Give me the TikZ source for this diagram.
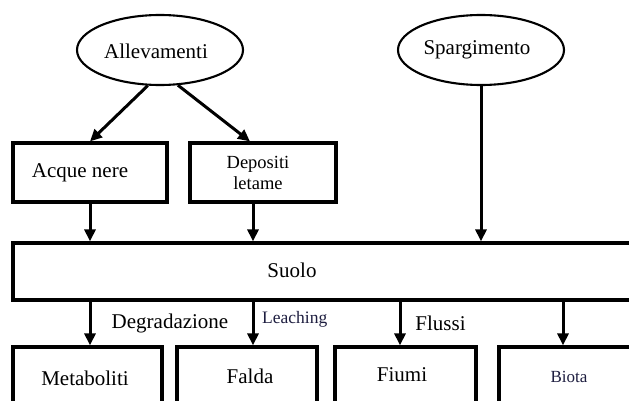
\documentclass[tikz,border=0pt]{standalone}
\usepackage{fontspec}
\setmainfont{Liberation Serif}
\usetikzlibrary{shapes.geometric,arrows.meta}
\definecolor{navy}{HTML}{1E1E40}
\tikzset{
  x=1pt, y=-1pt,
  oval/.style={ellipse, draw, line width=2.1pt, minimum width=166pt, minimum height=70pt, inner sep=0pt, font=\fontsize{21}{24}\selectfont},
  box/.style={rectangle, draw, line width=3.2pt, inner sep=0pt},
  txt/.style={inner sep=0pt, font=\fontsize{21}{24}\selectfont},
  small/.style={inner sep=0pt, font=\fontsize{18.5}{20.5}\selectfont, align=center},
  arr/.style={line width=3pt, -{Triangle[length=12pt,width=11pt]}},
}
\begin{document}
\begin{tikzpicture}
\clip (0,0) rectangle (629,401);
\fill[white] (0,0) rectangle (629,401);
% ellipses
\node[oval] (allev) at (160,50) {};
\node[txt] (allevt) at (156,51) {Allevamenti};
\node[oval] (sparg) at (481,50) {};
\node[txt] (spargt) at (477,50) {Spargimento};
% upper boxes
\node[box, minimum width=154pt, minimum height=59pt] (acque) at (90,172.5) {};
\node[txt] (acquet) at (80,173) {Acque nere};
\node[box, minimum width=146pt, minimum height=59pt] (depo) at (263,172.5) {};
\node[small] (depot) at (258,173) {Depositi\\letame};
% soil
\node[box, minimum width=660pt, minimum height=57pt] (suolo) at (343,271.5) {};
\node[txt] (suolot) at (292,270) {Suolo};
% lower boxes
\node[box, minimum width=149pt, minimum height=80pt] (metab) at (87.5,387) {};
\node[txt] (metabt) at (85,378) {Metaboliti};
\node[box, minimum width=140pt, minimum height=80pt] (falda) at (247,387) {};
\node[txt] (faldat) at (250,376) {Falda};
\node[box, minimum width=141pt, minimum height=80pt] (fiumi) at (405.5,387) {};
\node[txt] (fiumit) at (402,375) {Fiumi};
\node[box, minimum width=141pt, minimum height=80pt] (biota) at (569.5,387) {};
\node[inner sep=0pt, font=\fontsize{17}{20}\selectfont, text=navy] (biotat) at (569,377) {Biota};
% arrows top
\draw[arr] (allev.251) -- (acque.north);
\draw[arr] (allev.297) -- ([xshift=-13pt]depo.north);
\draw[arr] (acque.south) -- (acque.south |- suolo.north);
\draw[arr] ([xshift=-10pt]depo.south) -- ([xshift=-10pt]depo.south |- suolo.north);
\draw[arr] (sparg.south) -- (sparg.south |- suolo.north);
% arrows bottom
\draw[arr] ([xshift=2.5pt]metab.north |- suolo.south) -- ([xshift=2.5pt]metab.north);
\draw[arr] ([xshift=6pt]falda.north |- suolo.south) -- ([xshift=6pt]falda.north);
\draw[arr] ([xshift=-5.5pt]fiumi.north |- suolo.south) -- ([xshift=-5.5pt]fiumi.north);
\draw[arr] ([xshift=-6.5pt]biota.north |- suolo.south) -- ([xshift=-6.5pt]biota.north);
% labels
\node[txt] (degr) at (170,323) {Degradazione};
\node[inner sep=0pt, font=\fontsize{17.5}{20}\selectfont, text=navy, anchor=west] (leach) at (262,319) {Leaching};
\node[txt] (flussi) at (440.5,323) {Flussi};
\end{tikzpicture}
\end{document}
